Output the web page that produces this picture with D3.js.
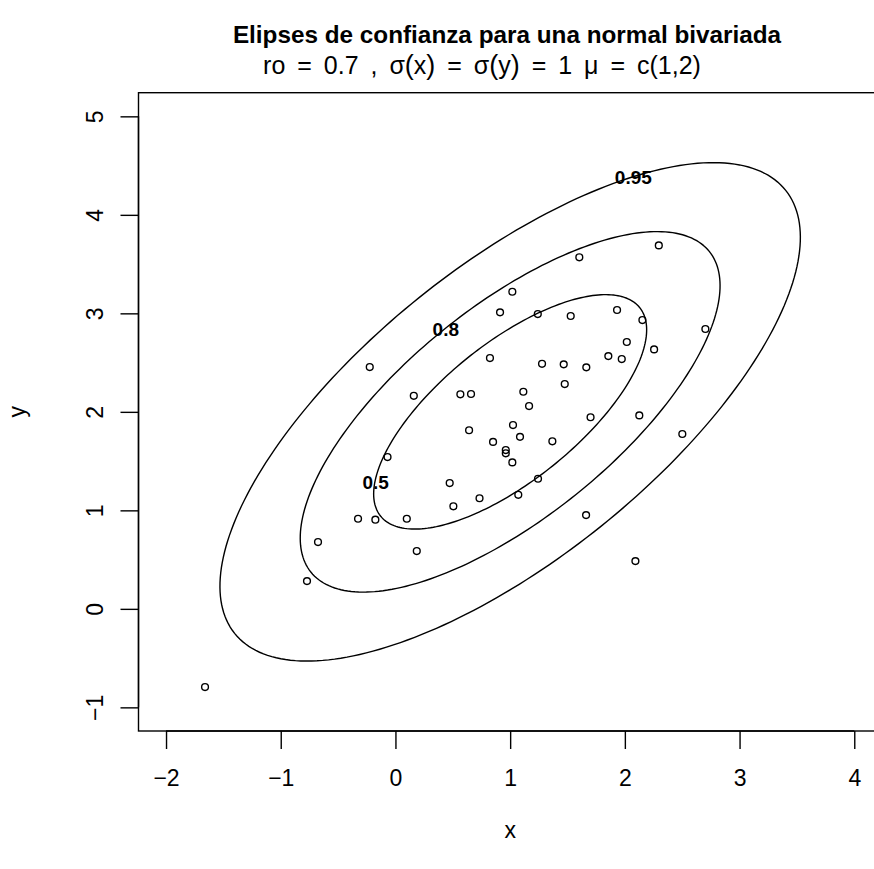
<!DOCTYPE html>
<html><head><meta charset="utf-8">
<script src="https://cdn.jsdelivr.net/npm/d3@7"></script>
<style>
body{margin:0;background:#fff}
svg{display:block}
text{font-family:"Liberation Sans",Arial,Helvetica,sans-serif;fill:#000}
</style>
</head><body>
<svg id="chart" width="874" height="869"></svg>
<script>
// ---- data ----
const pointsX = [-1.660,-0.771,-0.675,-0.326,-0.175,0.099,0.186,-0.069,-0.224,0.160,
  0.473,0.505,0.733,0.566,0.659,0.642,0.851,0.824,0.912,1.019,
  1.241,1.528,1.603,2.296,1.932,2.153,2.702,2.017,2.255,1.856,
  1.973,1.278,1.467,1.664,1.476,1.115,1.165,1.701,2.126,2.501,
  1.025,1.086,1.368,0.962,0.962,1.019,1.243,1.071,1.662,2.092];
const pointsY = [-0.794,0.282,0.678,0.915,0.905,0.915,0.587,1.541,2.455,2.163,
  1.277,1.041,1.123,2.178,2.181,1.813,1.695,2.546,3.010,3.219,
  2.993,2.973,3.569,3.690,3.034,2.932,2.841,2.709,2.634,2.566,
  2.536,2.488,2.482,2.452,2.282,2.204,2.059,1.945,1.964,1.775,
  1.866,1.746,1.701,1.612,1.579,1.487,1.321,1.158,0.952,0.485];
const levels = [0.5, 0.8, 0.95];
const levelRadii = [1.19, 1.83, 2.53];
const labelX = [-0.172, 0.439, 2.074];
const labelY = [1.284, 2.838, 4.387];
const rho = 0.7;
const sigma = [1, 1];
const mu = [1, 2];
const xTicks = [-2, -1, 0, 1, 2, 3, 4];
const yTicks = [-1, 0, 1, 2, 3, 4, 5];
const xDomain = [-2.24, 4.24];
const yDomain = [-1.24, 5.24];
const mainTitle = "Elipses de confianza para una normal bivariada";

(function () {
// ---- layout ----
const svg = d3.select("#chart");
const pL = 138.5, pR = 881.8, pT = 92.7, pB = 731;
const x = d3.scaleLinear().domain(xDomain).range([pL, pR]);
const y = d3.scaleLinear().domain(yDomain).range([pB, pT]);
const fmt = d => (d < 0 ? "\u2212" + Math.abs(d) : String(d));
const FS = 23;

// ellipses (parametric, ellipse-package style)
const dAng = Math.acos(rho);
const angles = d3.range(0, 2 * Math.PI, 2 * Math.PI / 240);
const line = d3.line().x(p => x(p[0])).y(p => y(p[1])).curve(d3.curveLinearClosed);
const gE = svg.append("g");
levelRadii.forEach((r, i) => {
  const pts = angles.map(a => [mu[0] + r * sigma[0] * Math.cos(a + dAng / 2),
                               mu[1] + r * sigma[1] * Math.cos(a - dAng / 2)]);
  gE.append("path").attr("d", line(pts)).attr("fill", "none")
    .attr("stroke", "#000").attr("stroke-width", 1.4);
});

// contour labels
levels.forEach((lv, i) => {
  svg.append("text").attr("x", x(labelX[i])).attr("y", y(labelY[i]))
    .attr("dy", "0.36em").attr("text-anchor", "middle")
    .attr("font-size", 19).attr("font-weight", "bold").text(String(lv));
});

// points
svg.append("g").selectAll("circle").data(pointsX.map((v, i) => [v, pointsY[i]]))
  .join("circle").attr("cx", d => x(d[0])).attr("cy", d => y(d[1])).attr("r", 3.4)
  .attr("fill", "none").attr("stroke", "#000").attr("stroke-width", 1.4);

// box
svg.append("rect").attr("x", pL).attr("y", pT).attr("width", pR - pL)
  .attr("height", pB - pT).attr("fill", "none").attr("stroke", "#000").attr("stroke-width", 1.4);

// x axis
const gx = svg.append("g").attr("transform", `translate(0,${pB})`)
  .call(d3.axisBottom(x).tickValues(xTicks).tickSize(18).tickPadding(21).tickFormat(fmt));
gx.attr("font-size", FS).attr("font-family", null);
gx.select(".domain").attr("stroke-width", 1.4).attr("d", `M${x(xTicks[0])},0H${x(xTicks[xTicks.length-1])}`);
gx.selectAll(".tick line").attr("stroke-width", 1.4);

// y axis
const gy = svg.append("g").attr("transform", `translate(${pL},0)`)
  .call(d3.axisLeft(y).tickValues(yTicks).tickSize(18).tickFormat(fmt));
gy.attr("font-size", FS).attr("font-family", null);
gy.select(".domain").attr("stroke-width", 1.4).attr("d", `M0,${y(yTicks[0])}V${y(yTicks[yTicks.length-1])}`);
gy.selectAll(".tick line").attr("stroke-width", 1.4);
gy.selectAll(".tick text")
  .attr("x", null).attr("dy", "0.36em").attr("text-anchor", "middle")
  .attr("transform", "translate(-44,0) rotate(-90)");

// axis titles
svg.append("text").attr("x", (pL + pR) / 2).attr("y", 838).attr("text-anchor", "middle")
  .attr("font-size", FS).text("x");
svg.append("text").attr("transform", `translate(25,${(pT + pB) / 2}) rotate(-90)`)
  .attr("text-anchor", "middle").attr("font-size", FS).text("y");

// title
svg.append("text").attr("x", 507).attr("y", 43).attr("text-anchor", "middle")
  .attr("font-size", 24.3).attr("font-weight", "bold").text(mainTitle);

// subtitle (plotmath-like)
const sub = svg.append("text").attr("x", 482).attr("y", 74).attr("text-anchor", "middle")
  .attr("font-size", 25).attr("word-spacing", 5);
const parts = [["ro = 0.7 , \u03c3", 25], ["(", 27], ["x", 25], [")", 27], [" = \u03c3", 25], ["(", 27], ["y", 25], [")", 27], [" = 1 \u03bc = c(1,2)", 25]];
parts.forEach(p => sub.append("tspan").attr("font-size", p[1]).text(p[0]));
})();
</script>
</body></html>
